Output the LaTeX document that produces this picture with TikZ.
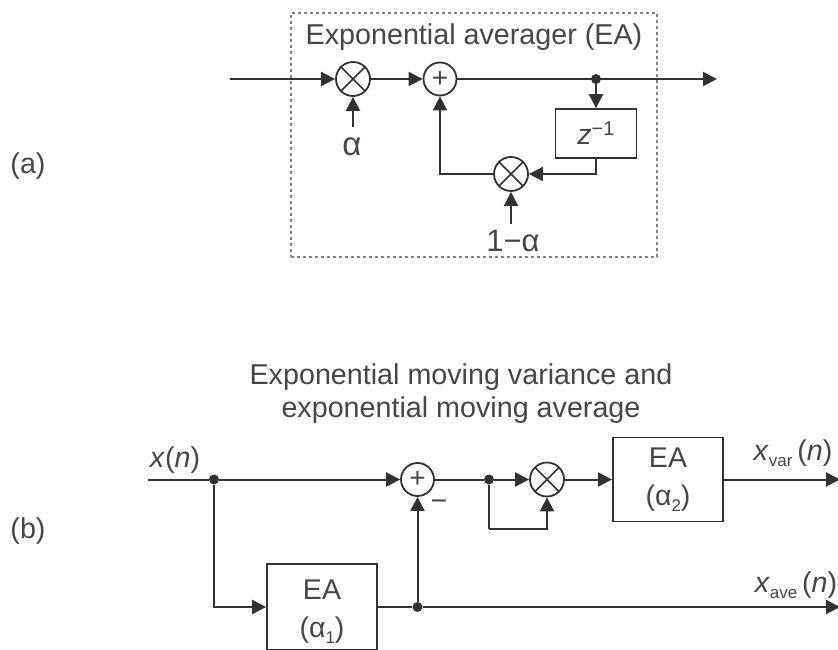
\documentclass[tikz,border=0pt]{standalone}
\usepackage{fontspec}
\setmainfont{Liberation Sans}
\usepackage{xcolor}
\usetikzlibrary{arrows.meta, positioning}
\definecolor{wire}{RGB}{50, 50, 50}
\definecolor{inktext}{RGB}{70, 70, 70}
\newcommand{\lowtxt}[1]{\raisebox{-6pt}{\fontsize{17}{17}\selectfont #1}}

\begin{document}
\begin{tikzpicture}[
    x=1pt, y=-1pt,
    >={Triangle[length=14pt, width=14pt]},
    link/.style={->, line width=2pt, draw=wire},
    wireline/.style={line width=2pt, draw=wire},
    lbl/.style={inner sep=0pt, text=inktext, align=center, font=\fontsize{28.7}{33}\selectfont},
    blockbox/.style={rectangle, draw=wire, line width=1.8pt, inner sep=0pt, minimum width=#1, text=inktext, align=center, font=\fontsize{28.5}{38}\selectfont},
    junction/.style={circle, fill=wire, inner sep=0pt, minimum size=10pt},
    adder/.style={circle, draw=wire, line width=1.8pt, inner sep=0pt, minimum size=33pt, text=inktext, font=\fontsize{28}{28}\selectfont},
    mixer/.style={circle, draw=wire, line width=1.8pt, inner sep=0pt, minimum size=34pt,
      path picture={
        \draw[line width=1.5pt, draw=wire] (path picture bounding box.north west) -- (path picture bounding box.south east);
        \draw[line width=1.5pt, draw=wire] (path picture bounding box.north east) -- (path picture bounding box.south west);
      }}
  ]
  \useasboundingbox (0,0) rectangle (838,650);

  % Averager
  \node[rectangle, draw=gray, dashed, line width=1.3pt, inner sep=0pt, minimum width=366pt, minimum height=244pt] (eabox) at (474,135) {};
  \node[lbl] (eatitle) at (474,37) {Exponential averager (EA)};
  \node[lbl] (alabel) at (28,166) {(a)};

  \coordinate (ain) at (230,79);
  \coordinate (aout) at (717,79);
  \coordinate (alphatail) at (353,127);
  \coordinate (betatail) at (511,224);
  \node[mixer] (mixa) at (353,79) {};
  \node[adder] (adda) at (440,79) {+};
  \node[junction] (dota) at (596,79) {};
  \node[blockbox=81pt, minimum height=49pt] (delay) at (596,133.5) {\textit{z}\raisebox{9pt}{\fontsize{20}{20}\selectfont −1}};
  \node[mixer] (mixfb) at (511,174) {};
  \node[lbl, font=\fontsize{33}{33}\selectfont] (alpha) at (352,147) {α};
  \node[lbl, font=\fontsize{31}{33}\selectfont] (beta) at (513,241) {1−α};

  % Averager links
  \draw[link] (ain) -- (mixa);
  \draw[link] (mixa) -- (adda);
  \draw[link] (adda) -- (aout);
  \draw[link] (dota) -- (delay);
  \draw[link] (delay.south) |- (mixfb.east);
  \draw[link] (mixfb.west) -| (adda.south);
  \draw[link] (alphatail) -- (mixa);
  \draw[link] (betatail) -- (mixfb);

  % Moving variance
  \node[lbl] (btitle) at (461,394) {Exponential moving variance and\\exponential moving average};
  \node[lbl] (blabel) at (28,531) {(b)};
  \node[lbl] (xin) at (175,460) {\textit{x}(\textit{n})};
  \node[lbl] (xvar) at (793,453) {\textit{x}\lowtxt{var}\,(\textit{n})};
  \node[lbl] (xave) at (796,585) {\textit{x}\lowtxt{ave}\,(\textit{n})};
  \node[lbl] (minus) at (439,505) {−};

  \coordinate (bin) at (148,479.5);
  \coordinate (varout) at (840,479.5);
  \coordinate (aveout) at (840,607);
  \coordinate (loop) at (489,529);
  \node[junction] (dotin) at (214,479.5) {};
  \node[adder] (addb) at (417.5,479.5) {+};
  \node[junction] (dotsq) at (489,479.5) {};
  \node[mixer] (mixsq) at (547,479.5) {};
  \node[blockbox=110pt, minimum height=84pt] (eavar) at (668,479.5) {EA\\(α\lowtxt{2})};
  \node[blockbox=110pt, minimum height=86pt] (eaave) at (322,607) {\rule{0pt}{29pt}EA\\(α\lowtxt{1})};
  \node[junction] (dotave) at (417.5,607) {};

  % Moving variance links
  \draw[wireline] (bin) -- (dotin);
  \draw[link] (dotin) -- (addb);
  \draw[wireline] (addb) -- (dotsq);
  \draw[link] (dotsq) -- (mixsq);
  \draw[link] (mixsq) -- (eavar);
  \draw[link] (eavar.east) -- (varout);
  \draw[wireline] (dotsq) -- (loop);
  \draw[link] (loop) -| (mixsq.south);
  \draw[link] (dotin) |- (eaave.west);
  \draw[wireline] (eaave.east) -- (dotave);
  \draw[link] (dotave) -- (aveout);
  \draw[link] (dotave) -- (addb.south);

\end{tikzpicture}
\end{document}
